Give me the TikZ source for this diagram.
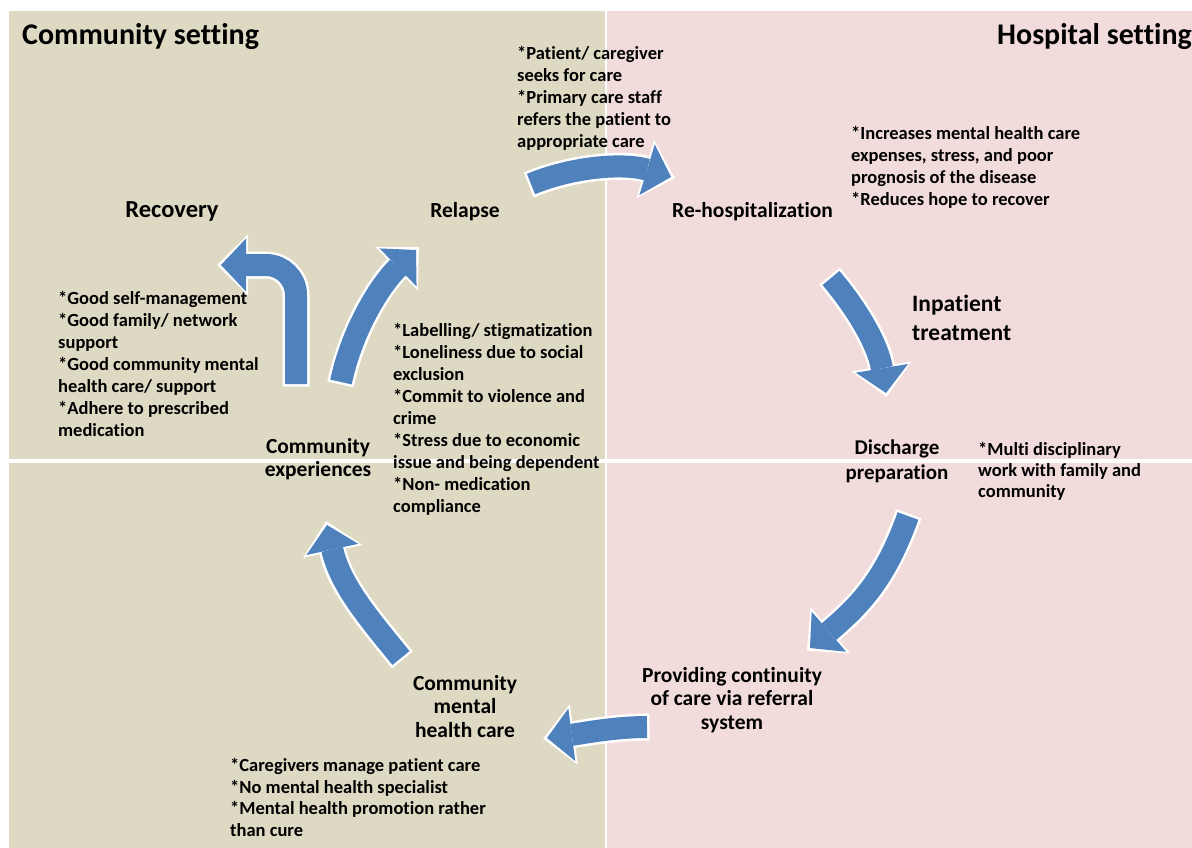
\documentclass[tikz,border=0pt]{standalone}
\usepackage{fontspec}
\setmainfont{Carlito}[Ligatures=NoCommon]
\usetikzlibrary{arrows.meta}
\definecolor{commbg}{HTML}{DDD9C3}
\definecolor{hospbg}{HTML}{F2DCDB}
\definecolor{flowblue}{HTML}{4F81BD}
\tikzset{
  title/.style={inner sep=0, anchor=base west, font=\fontsize{30}{35}\selectfont\bfseries},
  stage/.style={inner sep=0, align=center, anchor=north, font=\fontsize{21.5}{23.5}\selectfont\bfseries},
  notes/.style={inner sep=0, align=left, anchor=north west, font=\fontsize{18.5}{22}\selectfont\bfseries},
  flowout/.style={draw=white, line width=27pt, shorten <=-2.5pt, shorten >=-4pt,
    -{Triangle[length=31pt,width=61pt,line width=0pt]}},
  flowin/.style={draw=flowblue, line width=22pt,
    -{Triangle[length=25pt,width=53pt,line width=0pt]}},
}
\newcommand{\flowarrow}[1]{\draw[flowout] #1; \draw[flowin] #1;}
\begin{document}
\begin{tikzpicture}[x=1pt,y=-1pt]
\useasboundingbox (0,0) rectangle (1192,848);
% panels
\fill[white] (0,0) rectangle (1192,848);
\fill[commbg] (9,11) rectangle (606,848);
\fill[hospbg] (606,11) rectangle (1192,848);
\draw[white, line width=1.2pt] (606,11) -- (606,848);
\draw[white, line width=4pt] (9,461) -- (1192,461);

% headings
\node[title] (comm) at (22,45) {Community setting};
\node[title] (hosp) at (997,45) {Hospital setting};

% stages of the cycle
\node[inner sep=0, anchor=base, font=\fontsize{24.5}{28}\selectfont\bfseries] (recovery) at (172,218) {Recovery};
\node[inner sep=0, anchor=base, font=\fontsize{21.5}{24}\selectfont\bfseries] (relapse) at (465,217) {Relapse};
\node[inner sep=0, anchor=base west, font=\fontsize{21.5}{24}\selectfont\bfseries] (rehosp) at (672,217) {Re-hospitalization};
\node[inner sep=0, align=left, anchor=north west, font=\fontsize{23.5}{29}\selectfont\bfseries] (inpat) at (912,290.7) {\strut Inpatient\\treatment};
\node[stage, font=\fontsize{21}{25}\selectfont\bfseries] (disch) at (897,436.5) {\strut Discharge\\preparation};
\node[stage, font=\fontsize{21.5}{23}\selectfont\bfseries] (commexp) at (318,437) {\strut Community\\experiences};
\node[stage] (contin) at (732,665.5) {\strut Providing continuity\\of care via referral\\system};
\node[stage] (cmhc) at (465,673.5) {\strut Community\\mental\\health care};

% notes
\node[notes] (seek) at (517,43.6) {\strut *Patient/ caregiver\\seeks for care\\*Primary care staff\\refers the patient to\\appropriate care};
\node[notes] (cost) at (851,124) {\strut *Increases mental health care\\expenses, stress, and poor\\prognosis of the disease\\*Reduces hope to recover};
\node[notes] (good) at (58,289) {\strut *Good self-management\\*Good family/ network\\support\\*Good community mental\\health care/ support\\*Adhere to prescribed\\medication};
\node[notes] (risk) at (393,321) {\strut *Labelling/ stigmatization\\*Loneliness due to social\\exclusion\\*Commit to violence and\\crime\\*Stress due to economic\\issue and being dependent\\*Non- medication\\compliance};
\node[notes, font=\fontsize{18.5}{21}\selectfont\bfseries] (multi) at (978,441) {\strut *Multi disciplinary\\work with family and\\community};
\node[notes, font=\fontsize{18.5}{21.7}\selectfont\bfseries] (carers) at (230,756) {\strut *Caregivers manage patient care\\*No mental health specialist\\*Mental health promotion rather\\than cure};

% arrow end points
\coordinate (a1s) at (531,184);  \coordinate (a1e) at (671,177);
\coordinate (a2s) at (831,278);  \coordinate (a2e) at (886,393);
\coordinate (a3s) at (908,516);  \coordinate (a3e) at (810,648);
\coordinate (a4s) at (647,727);  \coordinate (a4e) at (547,738);
\coordinate (a5s) at (401,658);  \coordinate (a5e) at (327,525);
\coordinate (a6s) at (341,382);  \coordinate (a6e) at (416,250);
\coordinate (a7s) at (296,384);  \coordinate (a7e) at (221,265);

% block arrows of the cycle
\flowarrow{(a1s) .. controls +(44,-18) and +(-46,-14) .. (a1e)}
\flowarrow{(a2s) .. controls +(27,32) and +(-8,-48) .. (a2e)}
\flowarrow{(a3s) .. controls +(-23,64) and +(50,-43) .. (a3e)}
\flowarrow{(a4s) .. controls +(-32,0) and +(38,-5) .. (a4e)}
\flowarrow{(a5s) .. controls +(-31,-38) and +(13,60) .. (a5e)}
\flowarrow{(a6s) .. controls +(11,-52) and +(-36,35) .. (a6e)}
\flowarrow{[rounded corners=30pt] (a7s) |- (a7e)}
\end{tikzpicture}
\end{document}
